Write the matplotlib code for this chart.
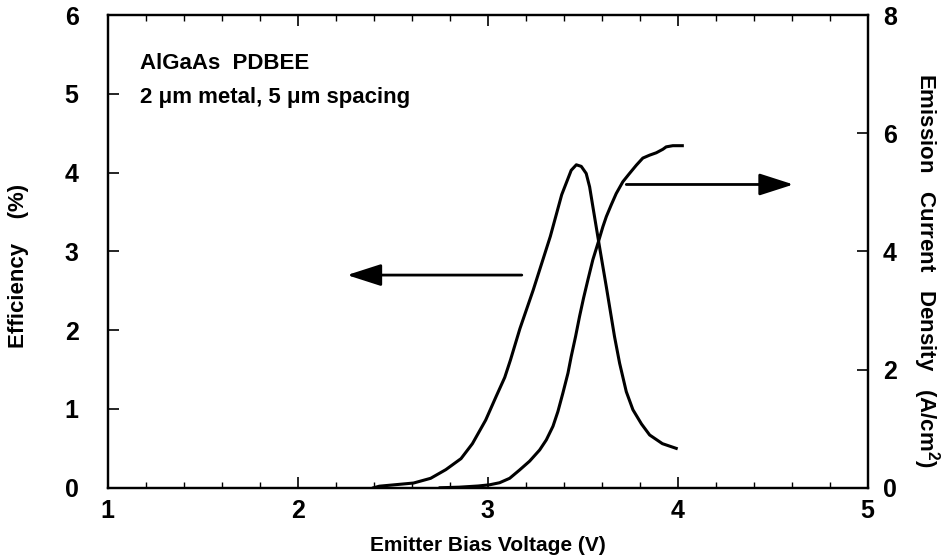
import matplotlib
matplotlib.use("Agg")
import matplotlib.pyplot as plt
from matplotlib.ticker import MultipleLocator

plt.rcParams['font.family'] = ['Liberation Sans', 'DejaVu Sans']
plt.rcParams['font.weight'] = 'bold'
plt.rcParams['axes.labelweight'] = 'bold'
plt.rcParams['mathtext.default'] = 'regular'

# efficiency curve (left axis, %)
eff_v = [2.40, 2.43, 2.61, 2.70, 2.78, 2.86, 2.92, 2.99, 3.045, 3.09, 3.12, 3.17,
         3.24, 3.33, 3.39, 3.44, 3.467, 3.493, 3.519, 3.537, 3.554, 3.589, 3.625,
         3.668, 3.695, 3.73, 3.765, 3.81, 3.853, 3.92, 3.993]
eff = [0.0, 0.02, 0.06, 0.12, 0.23, 0.37, 0.56, 0.86, 1.16, 1.40, 1.62, 2.02,
       2.51, 3.19, 3.72, 4.03, 4.10, 4.08, 3.99, 3.82, 3.57, 3.06, 2.55,
       1.92, 1.58, 1.22, 0.99, 0.81, 0.67, 0.56, 0.50]

# emission current density (right axis, A/cm^2)
cur_v = [2.75, 2.85, 2.95, 3.01, 3.063, 3.116, 3.168, 3.221, 3.274, 3.309, 3.344,
         3.370, 3.396, 3.423, 3.440, 3.463, 3.484, 3.505, 3.528, 3.554, 3.581,
         3.607, 3.625, 3.651, 3.677, 3.712, 3.747, 3.783, 3.817, 3.853, 3.888,
         3.923, 3.940, 3.975, 4.025]
cur = [0.0, 0.01, 0.03, 0.05, 0.085, 0.16, 0.30, 0.45, 0.64, 0.81, 1.04,
       1.29, 1.60, 1.94, 2.22, 2.56, 2.90, 3.21, 3.52, 3.86, 4.14,
       4.42, 4.59, 4.79, 4.98, 5.18, 5.32, 5.46, 5.58, 5.63, 5.67,
       5.73, 5.77, 5.79, 5.79]

fig = plt.figure(figsize=(9.45, 5.6), dpi=100)
ax = fig.add_axes([0.114, 0.129, 0.804, 0.844])
ax2 = ax.twinx()

ax.plot(eff_v, eff, color='black', lw=2.2, solid_joinstyle='round')
ax2.plot(cur_v, cur, color='black', lw=2.2, solid_joinstyle='round')

ax.set_xlim(1, 5)
ax.set_ylim(0, 6)
ax2.set_ylim(0, 8)

# arrows pointing to the axes
arrow_kw = dict(arrowstyle='-|>,head_length=1.4,head_width=0.45', mutation_scale=15,
                lw=2, color='black', shrinkA=0, shrinkB=0)
ax.annotate('', xy=(2.26, 2.70), xytext=(3.18, 2.70), arrowprops=arrow_kw)
ax.annotate('', xy=(4.61, 3.85), xytext=(3.73, 3.85), arrowprops=arrow_kw)

ax.text(1.168, 5.39, 'AlGaAs  PDBEE', fontsize=16, va='center', ha='left')
ax.text(1.168, 4.95, '2 \u03bcm metal, 5 \u03bcm spacing', fontsize=16, va='center', ha='left')

ax.xaxis.set_major_locator(MultipleLocator(1))
ax.xaxis.set_minor_locator(MultipleLocator(0.2))
ax.yaxis.set_major_locator(MultipleLocator(1))
ax2.yaxis.set_major_locator(MultipleLocator(2))

ax.tick_params(axis='x', which='major', direction='in', length=8, width=1.2,
               top=True, labelsize=18, pad=8)
ax.tick_params(axis='x', which='minor', direction='in', length=4, width=1, top=True)
ax.tick_params(axis='y', which='major', direction='in', length=8, width=1.2,
               labelsize=18, pad=21)
ax2.tick_params(axis='y', which='major', direction='in', length=8, width=1.2,
                labelsize=18, pad=11)

for a in (ax, ax2):
    for s in a.spines.values():
        s.set_linewidth(1.6)

ax.set_xlabel('Emitter Bias Voltage (V)', fontsize=15)
ax.xaxis.set_label_coords(0.5, -0.103)
ax.set_ylabel('Efficiency    (%)', fontsize=16)
ax.yaxis.set_label_coords(-0.103, 0.47)
ax2.set_ylabel('Emission   Current   Density   (A/cm$^2$)', fontsize=16,
               rotation=270, va='center')
ax2.yaxis.set_label_coords(1.078, 0.46)

fig.savefig('out.png', dpi=100)
